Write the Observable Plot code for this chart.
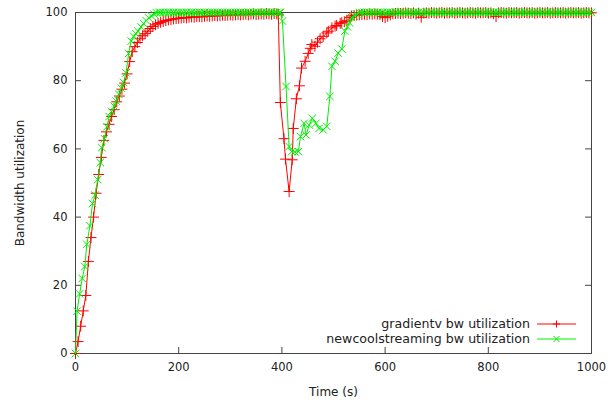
<!DOCTYPE html>
<html>
<head>
<meta charset="utf-8">
<script src="https://cdn.jsdelivr.net/npm/d3@7"></script>
<script src="https://cdn.jsdelivr.net/npm/@observablehq/plot@0.6"></script>
<style>
  body { margin: 0; background: #fff; }
  #wrap { position: relative; width: 609px; height: 401px; font-family: "DejaVu Sans", sans-serif; }
  #legend { position: absolute; right: 33px; top: 316px; font-size: 12.6px; color: #222; }
  #legend .row { display: flex; justify-content: flex-end; align-items: center; height: 15px; gap: 7px; }
</style>
</head>
<body>
<div id="wrap">
  <div id="chart"></div>
  <div id="legend"></div>
</div>
<script>
const xTicks = [0, 200, 400, 600, 800, 1000];
const yTicks = [0, 20, 40, 60, 80, 100];
const seriesNames = ["gradientv bw utilization", "newcoolstreaming bw utilization"];
const seriesColors = ["#ff0000", "#00ee00"];

const gradientTime = [
  0,5,10,15,20,25,30,35,40,45,
  50,55,60,65,70,75,80,85,90,95,
  100,105,110,115,120,125,130,135,140,145,
  150,155,160,165,170,175,180,185,190,195,
  200,205,210,215,220,225,230,235,240,245,
  250,255,260,265,270,275,280,285,290,295,
  300,305,310,315,320,325,330,335,340,345,
  350,355,360,365,370,375,380,385,390,393,
  397,404,407,414,420,422,428,434,438,445,
  451,455,458,464,469,474,480,487,490,497,
  503,506,513,516,521,526,532,535,540,545,
  550,555,560,565,570,575,580,585,590,595,
  600,605,610,615,620,625,630,635,640,645,
  650,655,660,665,670,675,680,685,690,695,
  700,705,710,715,720,725,730,735,740,745,
  750,755,760,765,770,775,780,785,790,795,
  800,805,810,815,820,825,830,835,840,845,
  850,855,860,865,870,875,880,885,890,895,
  900,905,910,915,920,925,930,935,940,945,
  950,955,960,965,970,975,980,985,990,995,
  1000
];
const gradientUtil = [
  0,3.5,8,12.5,17,27,34,40,47,52.5,
  57.5,62.5,65,67.2,69.5,71.5,73.8,75.5,77.5,79.3,
  82,85.6,88.5,90,91.2,92.3,93.2,93.8,94.5,95.3,
  95.9,96.4,96.8,97.1,97.4,97.6,97.8,97.9,98.1,98.2,
  98.3,98.4,98.5,98.4,98.6,98.7,98.6,98.8,98.8,98.7,
  98.9,99.0,98.9,99.0,99.1,99.0,99.1,99.2,99.1,99.2,
  99.3,99.2,99.3,99.4,99.3,99.4,99.5,99.3,99.5,99.6,
  99.4,99.5,99.6,99.5,99.7,99.6,99.5,99.7,99.6,99.5,
  73.6,63,57,47.5,56.8,66,74.7,78.5,83.7,85.7,
  88,89.5,90.6,90.1,91.3,92.3,93,94,94.5,95.5,
  96,96.2,96.8,97,97.3,97.6,98.5,99,99.1,99.2,
  99.3,99.4,99.5,99.4,99.6,99.5,99.6,99.5,99.4,98.8,
  98.5,98.9,99.3,99.6,99.7,99.8,99.7,99.8,99.9,99.8,
  99.7,99.9,99.5,99.8,98.6,99.8,99.9,99.8,100,99.9,
  99.8,99.9,100,99.8,99.9,99.9,100,99.8,99.9,100,
  99.9,99.8,99.9,100,99.9,99.8,100,99.9,99.9,100,
  99.8,99.9,99.6,98.8,99.9,100,99.9,99.8,100,99.9,
  99.9,100,99.8,99.9,100,99.9,99.9,100,99.8,99.9,
  100,99.9,99.9,100,99.8,99.9,100,99.9,99.9,100,
  99.8,99.9,100,99.9,99.9,100,99.8,99.9,100,99.9,
  99.9
];

const coolTime = [
  0,3,8,13,18,22,28,33,38,43,
  48,51,56,61,65,70,75,79,84,89,
  93,98,103,108,113,117,121,127,132,137,
  142,147,152,157,162,
  165,170,175,180,185,190,195,200,205,210,
  215,220,225,230,235,240,245,250,255,260,
  265,270,275,280,285,290,295,300,305,310,
  315,320,325,330,335,340,345,350,355,360,
  365,370,375,380,385,390,395,
  397,401,408,414,419,425,432,436,443,447,
  453,459,466,472,480,487,493,497,503,509,
  516,522,527,531,535,540,545,550,
  555,560,565,570,575,580,585,590,595,600,
  605,610,615,620,625,630,635,640,645,650,
  655,660,665,670,675,680,685,690,695,700,
  705,710,715,720,725,730,735,740,745,750,
  755,760,765,770,775,780,785,790,795,800,
  805,810,815,820,825,830,835,840,845,850,
  855,860,865,870,875,880,885,890,895,900,
  905,910,915,920,925,930,935,940,945,950,
  955,960,965,970,975,980,985,990,995,1000
];
const coolUtil = [
  0,12.4,17.5,22,25.5,32,37.5,44,46.4,51,
  56,60.4,63,66.5,69.5,71,72.5,74,76,77.8,
  79.5,82.3,88,91.6,93,93.8,94.5,95.8,96.8,97.6,
  98.4,99,99.5,99.9,100,
  100,100,100,100,100,100,100,100,100,100,
  100,100,100,100,100,100,100,100,100,100,
  100,100,100,100,100,100,100,100,100,100,
  100,100,100,100,100,100,100,100,100,100,
  100,100,100,100,100,100,100,
  100,97.5,78.3,60.7,59.2,59.1,59.2,63.6,67.5,64.1,
  67,69,67.5,66,65.6,66.6,75.4,84.2,85.7,88.1,
  89.3,94.5,95.8,97,98.5,99,99.5,100,
  100,100,100,100,100,100,100,100,100,100,
  100,100,100,100,100,100,100,100,100,100,
  100,100,100,100,100,100,100,100,100,100,
  100,100,100,100,100,100,100,100,100,100,
  100,100,100,100,100,100,100,100,100,100,
  100,100,100,100,100,100,100,100,100,100,
  100,100,100,100,100,100,100,100,100,100,
  100,100,100,100,100,100,100,100,100,100,
  100,100,100,100,100,100,100,100,100,100
];

if (gradientTime.length !== gradientUtil.length) throw new Error("gradient length " + gradientTime.length + " vs " + gradientUtil.length);
if (coolTime.length !== coolUtil.length) throw new Error("cool length " + coolTime.length + " vs " + coolUtil.length);

const gradientRows = gradientTime.map((t, i) => ({t, v: gradientUtil[i]}));
const coolRows = coolTime.map((t, i) => ({t, v: coolUtil[i]}));

const frameColor = "#444";

const chart = Plot.plot({
  width: 609,
  height: 401,
  marginLeft: 75,
  marginRight: 18,
  marginTop: 12,
  marginBottom: 48,
  style: { fontFamily: "DejaVu Sans, sans-serif", fontSize: "11.5px", color: "#222", background: "#fff" },
  x: { domain: [0, 1000], ticks: xTicks, tickSize: 0, tickPadding: 9, tickFormat: d => String(d),
       label: "Time (s)", labelAnchor: "center", labelOffset: 42, labelArrow: "none" },
  y: { domain: [0, 100], ticks: yTicks, tickSize: 0, tickPadding: 8, tickFormat: d => String(d),
       label: "Bandwidth utilization", labelAnchor: "center", labelOffset: 60, labelArrow: "none" },
  marks: [
    Plot.frame({ stroke: frameColor }),
    Plot.tickX(xTicks, { x: d => d, stroke: frameColor, insetTop: 335 }),
    Plot.tickX(xTicks, { x: d => d, stroke: frameColor, insetBottom: 335 }),
    Plot.tickY(yTicks, { y: d => d, stroke: frameColor, insetRight: 510 }),
    Plot.tickY(yTicks, { y: d => d, stroke: frameColor, insetLeft: 510 }),
    Plot.line(gradientRows, { x: "t", y: "v", stroke: seriesColors[0], strokeWidth: 1 }),
    Plot.dot(gradientRows, { x: "t", y: "v", symbol: "plus", stroke: seriesColors[0], r: 3.6, strokeWidth: 1 }),
    Plot.line(coolRows, { x: "t", y: "v", stroke: seriesColors[1], strokeWidth: 1 }),
    Plot.dot(coolRows, { x: "t", y: "v", symbol: "times", stroke: seriesColors[1], r: 3.5, strokeWidth: 1 })
  ]
});
document.getElementById("chart").appendChild(chart);
chart.querySelectorAll("g[aria-label='x-axis label'] text, g[aria-label='y-axis label'] text")
  .forEach(t => t.setAttribute("font-size", "12px"));

// legend
const legend = d3.select("#legend");
const glyphs = [
  "M16,5H23M19.5,1.5V8.5",
  "M16.5,2L22.5,8M22.5,2L16.5,8"
];
seriesNames.forEach((name, i) => {
  const row = legend.append("div").attr("class", "row");
  row.append("span").text(name);
  const svg = row.append("svg").attr("width", 39).attr("height", 10);
  svg.append("line").attr("x1", 0).attr("x2", 39).attr("y1", 5).attr("y2", 5)
    .attr("stroke", seriesColors[i]).attr("stroke-width", 1);
  svg.append("path").attr("d", glyphs[i]).attr("stroke", seriesColors[i]).attr("fill", "none");
});
</script>
</body>
</html>
